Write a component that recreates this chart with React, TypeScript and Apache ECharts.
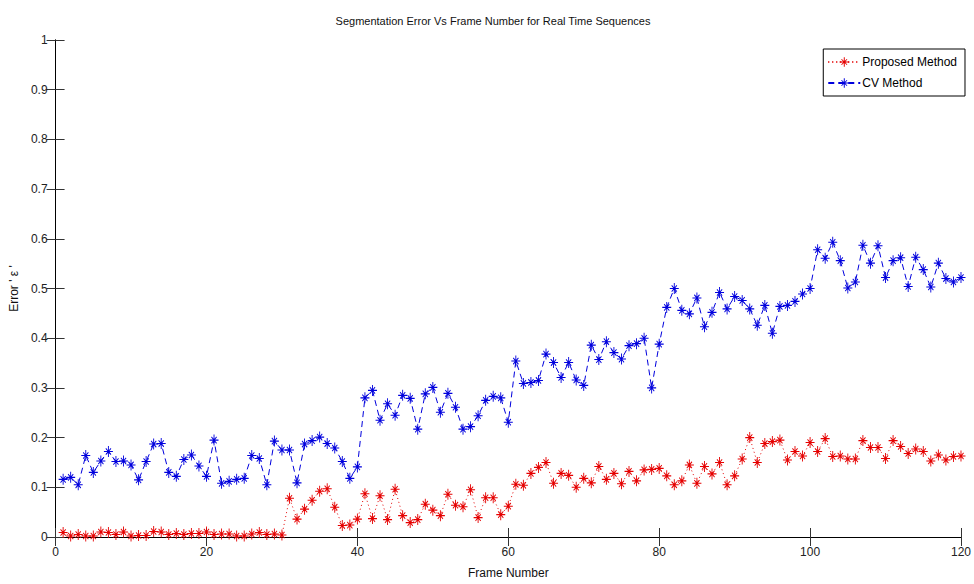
import React, { useEffect, useRef } from "react";
import * as echarts from "echarts";

const frames: number[] = Array.from({ length: 120 }, (_, i) => i + 1);

const proposedError: number[] = [
  0.009, 0.002, 0.005, 0.002, 0.002, 0.010, 0.009, 0.005, 0.010, 0.002,
  0.003, 0.003, 0.011, 0.010, 0.005, 0.007, 0.005, 0.007, 0.007, 0.010,
  0.005, 0.006, 0.006, 0.002, 0.002, 0.006, 0.009, 0.005, 0.006, 0.004,
  0.078, 0.036, 0.056, 0.074, 0.092, 0.097, 0.060, 0.023, 0.024, 0.036,
  0.087, 0.037, 0.083, 0.035, 0.096, 0.043, 0.029, 0.035, 0.066, 0.054,
  0.043, 0.086, 0.064, 0.061, 0.095, 0.039, 0.079, 0.079, 0.045, 0.062,
  0.106, 0.104, 0.128, 0.140, 0.150, 0.108, 0.128, 0.124, 0.100, 0.118,
  0.109, 0.142, 0.116, 0.128, 0.107, 0.132, 0.113, 0.135, 0.136, 0.138,
  0.123, 0.105, 0.113, 0.145, 0.108, 0.142, 0.127, 0.150, 0.105, 0.123,
  0.157, 0.200, 0.150, 0.188, 0.192, 0.195, 0.155, 0.172, 0.163, 0.190,
  0.172, 0.198, 0.162, 0.163, 0.157, 0.157, 0.194, 0.180, 0.180, 0.158,
  0.194, 0.182, 0.168, 0.177, 0.172, 0.153, 0.165, 0.155, 0.162, 0.163,
];

const cvError: number[] = [
  0.116, 0.120, 0.105, 0.164, 0.130, 0.153, 0.172, 0.152, 0.153, 0.145,
  0.115, 0.152, 0.187, 0.188, 0.130, 0.122, 0.156, 0.165, 0.143, 0.122,
  0.195, 0.108, 0.112, 0.116, 0.118, 0.164, 0.158, 0.105, 0.193, 0.175,
  0.175, 0.109, 0.187, 0.194, 0.201, 0.188, 0.179, 0.152, 0.118, 0.141,
  0.280, 0.295, 0.235, 0.268, 0.245, 0.285, 0.279, 0.217, 0.288, 0.301,
  0.251, 0.289, 0.261, 0.217, 0.222, 0.244, 0.275, 0.283, 0.280, 0.231,
  0.354, 0.309, 0.311, 0.315, 0.368, 0.351, 0.321, 0.351, 0.316, 0.305,
  0.386, 0.357, 0.393, 0.371, 0.358, 0.385, 0.389, 0.400, 0.300, 0.388,
  0.462, 0.500, 0.456, 0.449, 0.481, 0.423, 0.452, 0.492, 0.459, 0.484,
  0.476, 0.459, 0.426, 0.466, 0.410, 0.464, 0.466, 0.474, 0.489, 0.500,
  0.578, 0.561, 0.593, 0.556, 0.501, 0.513, 0.587, 0.551, 0.586, 0.522,
  0.556, 0.562, 0.504, 0.563, 0.538, 0.503, 0.551, 0.520, 0.513, 0.522,
];

const seriesNames: string[] = ["Proposed Method", "CV Method"];
const titleText = "Segmentation Error Vs Frame Number for Real Time Sequences";
const xAxisName = "Frame Number";
const yAxisName = "Error ' \u03b5 '";

const STAR =
  "path://M9 0H11V20H9Z M0 9H20V11H0Z M3.5 4.9L4.9 3.5L16.5 15.1L15.1 16.5Z M15.1 3.5L16.5 4.9L4.9 16.5L3.5 15.1Z";

const FONT = "'Liberation Sans Narrow', 'Arial Narrow', 'Liberation Sans', sans-serif";

export default function App() {
  const ref = useRef<HTMLDivElement>(null);
  useEffect(() => {
    if (!ref.current) return;
    const chart = echarts.init(ref.current, undefined, { renderer: "svg" });
    const axisLine = { show: true, lineStyle: { color: "#000", width: 1 } };
    const tick = { show: true, inside: true, length: 9, lineStyle: { color: "#333" } };
    chart.setOption({
      animation: false,
      backgroundColor: "#fff",
      title: {
        text: titleText,
        left: 488,
        textAlign: "center",
        top: 10,
        textStyle: { fontFamily: FONT, fontSize: 11, fontWeight: "normal", color: "#111" },
      },
      legend: {
        orient: "vertical",
        right: 9,
        top: 49,
        backgroundColor: "#fff",
        borderColor: "#000",
        borderWidth: 1,
        borderRadius: 0,
        padding: [7, 8, 7, 4],
        itemGap: 9,
        itemWidth: 32,
        itemHeight: 12,
        data: seriesNames,
        textStyle: { fontFamily: FONT, fontSize: 12, color: "#000", padding: [0, 0, 0, -3] },
      },
      grid: { left: 48, right: 6, top: 40, bottom: 43, containLabel: false },
      xAxis: [
        {
          type: "value",
          min: 0,
          max: 120,
          interval: 20,
          position: "bottom",
          name: xAxisName,
          nameLocation: "middle",
          nameGap: 30,
          nameTextStyle: { fontFamily: FONT, fontSize: 12, color: "#111" },
          axisLine,
          axisTick: tick,
          splitLine: { show: false },
          axisLabel: { margin: 9, fontFamily: FONT, fontSize: 12, color: "#222" },
        },
        {
          type: "value",
          min: 0,
          max: 120,
          interval: 20,
          position: "top",
          axisLine,
          axisTick: tick,
          splitLine: { show: false },
          axisLabel: { show: false },
        },
      ],
      yAxis: [
        {
          type: "value",
          min: 0,
          max: 1,
          interval: 0.1,
          position: "left",
          name: yAxisName,
          nameLocation: "middle",
          nameGap: 27,
          nameTextStyle: { fontFamily: FONT, fontSize: 12, color: "#111" },
          axisLine,
          axisTick: tick,
          splitLine: { show: false },
          axisLabel: {
            margin: 8,
            fontFamily: FONT,
            fontSize: 12,
            color: "#222",
            formatter: (v: number) => String(Math.round(v * 10) / 10),
          },
        },
        {
          type: "value",
          min: 0,
          max: 1,
          interval: 0.1,
          position: "right",
          axisLine,
          axisTick: tick,
          splitLine: { show: false },
          axisLabel: { show: false },
        },
      ],
      series: [
        {
          name: seriesNames[0],
          type: "line",
          xAxisIndex: 0,
          yAxisIndex: 0,
          data: frames.map((f, i) => [f, proposedError[i]]),
          symbol: STAR,
          symbolSize: [9, 11],
          showAllSymbol: true,
          itemStyle: { color: "#e50000" },
          lineStyle: { color: "#e50000", width: 1, type: [1, 3] },
        },
        {
          name: seriesNames[1],
          type: "line",
          xAxisIndex: 0,
          yAxisIndex: 0,
          data: frames.map((f, i) => [f, cvError[i]]),
          symbol: STAR,
          symbolSize: [9, 11],
          showAllSymbol: true,
          itemStyle: { color: "#0000dd" },
          lineStyle: { color: "#0000dd", width: 1, type: [6, 4] },
        },
      ],
    });
    return () => chart.dispose();
  }, []);
  return <div ref={ref} style={{ width: 974, height: 584, position: "absolute", left: 0, top: 0 }} />;
}
